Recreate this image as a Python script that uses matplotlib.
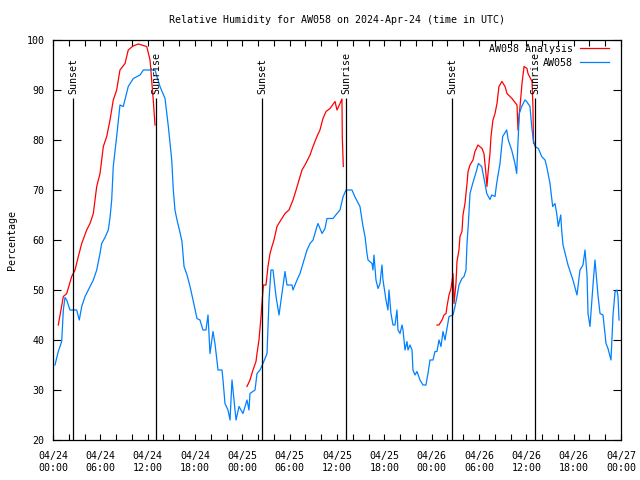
import numpy as np
import matplotlib
matplotlib.use("Agg")
import matplotlib.pyplot as plt

# hours since 2024-04-24 00:00 UTC
obs_hours = [
    0.25, 0.67, 1.10, 1.31, 1.52, 1.74, 2.15, 3.00, 3.33, 3.64, 4.06, 4.69, 5.11, 5.54, 5.96,
    6.17, 6.59, 7.01, 7.23, 7.44, 7.64, 8.07, 8.49, 8.91, 9.54, 10.18, 11.03, 11.45, 12.93,
    13.56, 14.20, 14.62, 15.05, 15.25, 15.46, 15.72, 16.10, 16.35, 16.61, 16.99, 17.37, 17.75,
    18.25, 18.63, 19.01, 19.39, 19.65, 19.90, 20.28, 20.53, 20.92, 21.42, 21.55, 21.80, 22.18,
    22.44, 22.69, 22.94, 23.20, 23.58, 24.08, 24.59, 24.84, 24.97, 25.61, 25.86, 26.24, 26.62,
    27.13, 27.25, 27.38, 27.63, 27.89, 28.27, 28.65, 29.03, 29.41, 29.66, 30.29, 30.42, 30.93,
    31.31, 31.69, 32.20, 32.58, 32.96, 33.46, 33.59, 34.10, 34.48, 34.73, 35.49, 36.00, 36.38,
    36.76, 37.14, 37.90, 38.28, 38.91, 39.30, 39.55, 39.80, 39.93, 40.44, 40.56, 40.69, 40.94,
    41.20, 41.45, 41.70, 41.83, 42.21, 42.46, 42.59, 42.84, 43.10, 43.35, 43.60, 43.73, 43.99,
    44.24, 44.37, 44.62, 44.87, 45.00, 45.25, 45.51, 45.63, 45.89, 46.14, 46.52, 46.90, 47.28,
    47.53, 47.79, 48.17, 48.42, 48.67, 48.93, 49.18, 49.44, 49.69, 49.94, 50.20, 50.70, 50.96,
    51.21, 51.46, 51.84, 52.10, 52.35, 52.48, 52.64, 52.86, 53.20, 53.71, 53.91, 54.34, 54.76,
    54.98, 55.18, 55.39, 55.61, 56.03, 56.24, 56.66, 57.00, 57.51, 57.71, 58.14, 58.56, 58.78,
    58.90, 59.11, 59.41, 59.83, 60.04, 60.46, 60.68, 60.88, 61.10, 61.52, 61.95, 62.37, 62.58,
    63.00, 63.34, 63.63, 63.85, 64.05, 64.36, 64.48, 64.65, 65.28, 65.91, 66.42, 66.80, 67.18,
    67.44, 67.69, 67.82, 68.07, 68.45, 68.70, 69.08, 69.34, 69.72, 70.10, 70.35, 70.73, 70.99,
    71.24, 71.49, 71.62, 71.75,
]
obs_rh = [
    35, 37.7, 39.7, 46, 48.5, 48, 46, 46, 44, 46.7, 48.7, 50.7, 52, 54, 57.3,
    59.3, 60.5, 62, 64.5, 68, 74.7, 80.7, 87, 86.7, 90.7, 92.3, 93, 94, 94,
    90.7, 88.3, 82.7, 76, 70, 66, 64, 61.5, 59.7, 54.7, 53, 50.7, 48,
    44.3, 44, 42, 42, 45, 37.3, 41.7, 39.3, 34, 34, 32, 27.3, 26,
    24, 32, 28, 24, 26.7, 25.3, 28, 26, 29.3, 30, 33.3, 34, 35.3,
    37.3, 42.7, 48, 54, 54, 48.7, 45, 49.3, 53.7, 51, 51, 50, 52,
    53.3, 55.3, 58, 59.3, 60, 62.7, 63.3, 61.3, 62.3, 64.3, 64.3, 65.3, 66,
    68.6, 70, 70, 68.6, 66.7, 62.7, 60.7, 57.3, 56, 55.3, 54, 57, 52,
    50.3, 51.3, 55, 52, 48, 46, 50, 45.3, 43, 43, 46, 42, 41.3,
    43, 42, 38, 39.7, 38, 39, 38, 34, 33, 33.7, 32, 31, 31,
    33.3, 36, 36, 37.7, 37.7, 40, 38.7, 41.7, 40, 42.3, 44.7, 45, 46.7,
    48.7, 51, 52.3, 52.7, 54, 59.3, 63, 69.3, 71.3, 74, 75.3, 74.7, 71.3,
    69.3, 68.7, 68.1, 69, 68.7, 71.3, 75.3, 80.7, 82, 80, 78, 75.3, 73.3,
    78, 85.3, 86.7, 88, 87.7, 86.7, 82.7, 80, 78.7, 78.3, 76.7, 76, 74.7,
    71.3, 66.7, 67.3, 65.3, 62.7, 65, 62, 59, 55, 52, 49, 54, 55,
    58, 53, 45.3, 42.7, 51, 56, 49, 45.3, 45, 39.3, 38.3, 36, 45,
    49.6, 50, 48.7, 44,
]

# analysis, three separate runs (nan = gap)
ana_hours = [
    0.67, 1.31, 1.74, 2.37, 2.79, 3.21, 3.64, 4.27, 4.69, 5.11, 5.54, 5.96, 6.38, 6.81, 7.23,
    7.64, 8.07, 8.49, 9.13, 9.54, 10.14, 10.81, 11.88, 12.30, 12.71, 12.93, 13.0,
    24.59, 24.97, 25.35, 25.73, 25.86, 26.11, 26.37, 26.49, 26.62, 26.68, 27.00, 27.25, 27.51,
    27.76, 28.01, 28.39, 28.77, 29.41, 29.91, 30.42, 30.68, 31.06, 31.56, 31.94, 32.58, 32.96,
    33.46, 33.84, 34.22, 34.61, 35.11, 35.75, 36.00, 36.38, 36.63, 36.67, 36.80, 36.9,
    48.67, 48.93, 49.31, 49.56, 49.82, 49.94, 50.20, 50.45, 50.58, 50.70, 50.77, 50.83, 51.08,
    51.21, 51.46, 51.59, 51.84, 51.97, 52.22, 52.48, 52.61, 52.86, 53.24, 53.49, 53.87, 54.38,
    54.63, 54.88, 55.01, 55.14, 55.39, 55.52, 55.77, 56.03, 56.28, 56.53, 56.91, 57.30, 57.55,
    58.18, 58.82, 58.94, 59.07, 59.20, 59.45, 59.71, 60.08, 60.21, 60.72, 60.84, 60.91,
]
ana_rh = [
    43, 48.7, 49.3, 52.7, 54, 56.7, 59.3, 62, 63.3, 65.3, 70.7, 73.3, 78.7, 80.7, 84,
    88, 90, 94, 95.3, 98, 98.8, 99.2, 98.7, 96, 88, 83, np.nan,
    30.7, 32, 34, 35.7, 37.3, 40, 44.7, 47.3, 50, 51, 51, 54.7, 57.3,
    58.7, 60, 62.7, 63.7, 65.3, 66, 68, 69.3, 71.3, 74, 75, 77, 78.7,
    80.7, 82, 84.3, 85.7, 86.3, 87.7, 86, 87.3, 88.2, 80.7, 74.7, np.nan,
    43, 43, 44, 45, 45.3, 46.7, 49, 50.3, 51.7, 53.3, 50.7, 47.3, 51.3,
    55.7, 58, 60.7, 61.7, 65, 67.3, 71.3, 73.7, 75, 76, 77.7, 79, 78.3,
    77.3, 73.3, 70.7, 73.3, 77.3, 80.7, 84, 85.3, 87.3, 90.7, 91.7, 90.7, 89.3,
    88.3, 87, 82, 84.7, 86.7, 91.3, 94.7, 94.3, 93.3, 91.7, 86.7, 79.3,
]

sun_hours = [2.54, 13.06, 26.49, 37.14, 50.58, 61.10]
sun_labels = ["Sunset", "Sunrise", "Sunset", "Sunrise", "Sunset", "Sunrise"]

tick_hours = list(range(0, 73, 6))
tick_labels = [
    "04/24\n00:00", "04/24\n06:00", "04/24\n12:00", "04/24\n18:00",
    "04/25\n00:00", "04/25\n06:00", "04/25\n12:00", "04/25\n18:00",
    "04/26\n00:00", "04/26\n06:00", "04/26\n12:00", "04/26\n18:00",
    "04/27\n00:00",
]

plt.rcParams.update(
    {
        "font.family": ["DejaVu Sans Mono"],
        "font.size": 7.2,
    }
)

fig = plt.figure(figsize=(6.4, 4.8), dpi=100)
ax = fig.add_axes([53 / 640, 40 / 480, 568 / 640, 400 / 480])

ax.plot(ana_hours, ana_rh, color="#ff0000", lw=0.9, label="AW058 Analysis")
ax.plot(obs_hours, obs_rh, color="#0080ff", lw=0.9, label="AW058")

ax.vlines(sun_hours, 20, 88.4, color="black", lw=0.9)
for h, lab in zip(sun_hours, sun_labels):
    ax.text(h, 89.1, lab, rotation=90, ha="center", va="bottom")

ax.set_xlim(0, 72)
ax.set_ylim(20, 100)
ax.set_xticks(tick_hours)
ax.set_xticklabels(tick_labels)
ax.set_xticks(range(0, 73, 2), minor=True)
ax.set_yticks(range(20, 101, 10))
ax.tick_params(axis="x", which="both", direction="in", top=True, length=4, width=0.8, pad=8)
ax.tick_params(axis="y", direction="in", right=True, length=6, width=0.8, pad=6)
for s in ax.spines.values():
    s.set_linewidth(0.9)

fig.text(337 / 640, 1 - 20 / 480, "Relative Humidity for AW058 on 2024-Apr-24 (time in UTC)",
         ha="center", va="center")
fig.text(12 / 640, 0.5, "Percentage", rotation=90, ha="center", va="center")

ax.legend(loc="upper right", bbox_to_anchor=(1 - 8 / 568, 1), frameon=False,
          markerfirst=False, handlelength=2.9, handletextpad=0.7, labelspacing=0.4,
          borderaxespad=0.2, borderpad=0.2)

fig.savefig("out.png", dpi=100)
